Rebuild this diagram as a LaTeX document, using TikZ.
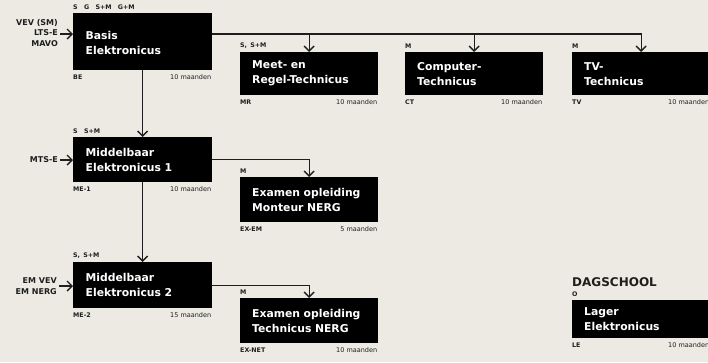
\documentclass[tikz,border=0pt]{standalone}
\usepackage{fontspec}
\setmainfont{DejaVu Sans}
\usetikzlibrary{arrows.meta}
\definecolor{paper}{HTML}{ECEAE2}
\definecolor{ink}{HTML}{1E1E1E}
\tikzset{
  course/.style={fill=black, draw=none, anchor=north west, inner xsep=12pt, inner ysep=0pt,
    text=white, font=\bfseries\fontsize{10.8}{15}\selectfont,
    align=left, text width=114pt},
  tag/.style={font=\bfseries\fontsize{6.3}{7}\selectfont, text=ink, inner sep=0pt},
  dur/.style={font=\fontsize{6.5}{7}\selectfont, text=ink, inner sep=0pt},
  entry/.style={font=\bfseries\fontsize{8}{10.5}\selectfont, text=ink, inner sep=0pt, align=right, anchor=east},
  link/.style={draw=ink, line width=1.4pt, -{Straight Barb[length=5pt,width=10pt,line width=1.4pt]}},
}
\begin{document}
\begin{tikzpicture}[x=1pt,y=-1pt]
  \fill[paper] (0,0) rectangle (708,362);
  \useasboundingbox (0,0) rectangle (708,362);

  % course blocks
  \node[course, minimum width=139pt, minimum height=57pt, text depth=12pt] (be) at (73,13) {Basis\\Elektronicus};
  \node[course, minimum width=138pt, minimum height=43pt] (mr)   at (240,52) {Meet- en\\Regel-Technicus};
  \node[course, minimum width=138pt, minimum height=43pt] (ct)   at (405,52) {Computer-\\Technicus};
  \node[course, minimum width=138pt, minimum height=43pt] (tv)   at (572,52) {TV-\\Technicus};
  \node[course, minimum width=139pt, minimum height=45pt] (me1)  at (73,137) {Middelbaar\\Elektronicus 1};
  \node[course, minimum width=138pt, minimum height=45pt] (exem) at (240,177) {Examen opleiding\\Monteur NERG};
  \node[course, minimum width=139pt, minimum height=46pt] (me2)  at (73,262) {Middelbaar\\Elektronicus 2};
  \node[course, minimum width=138pt, minimum height=45pt] (exnt) at (240,298) {Examen opleiding\\Technicus NERG};
  \node[course, minimum width=138pt, minimum height=38pt] (le)   at (572,300) {Lager\\Elektronicus};

  % target groups above each block
  \node[tag, anchor=south west] (be-t)   at ([yshift=3pt]be.north west)   {S\quad G\quad S+M\quad G+M};
  \node[tag, anchor=south west] (mr-t)   at ([yshift=3pt]mr.north west)   {S,\enspace S+M};
  \node[tag, anchor=south west] (ct-t)   at ([yshift=3pt]ct.north west)   {M};
  \node[tag, anchor=south west] (tv-t)   at ([yshift=3pt]tv.north west)   {M};
  \node[tag, anchor=south west] (me1-t)  at ([yshift=3pt]me1.north west)  {S\quad S+M};
  \node[tag, anchor=south west] (exem-t) at ([yshift=3pt]exem.north west) {M};
  \node[tag, anchor=south west] (me2-t)  at ([yshift=3pt]me2.north west)  {S,\enspace S+M};
  \node[tag, anchor=south west] (exnt-t) at ([yshift=3pt]exnt.north west) {M};
  \node[tag, anchor=south west] (le-t)   at ([yshift=3pt]le.north west)   {O};
  \node[font=\bfseries\fontsize{12}{14}\selectfont, text=ink, inner sep=0pt, anchor=south west] (dag)
       at ([yshift=5pt]le-t.north west) {DAGSCHOOL};

  % codes and durations below each block
  \foreach \b/\code/\dur in {be/BE/10 maanden, mr/MR/10 maanden, ct/CT/10 maanden,
      tv/TV/10 maanden, me1/ME-1/10 maanden, exem/EX-EM/5 maanden,
      me2/ME-2/15 maanden, exnt/EX-NET/10 maanden, le/LE/10 maanden}{
    \node[tag, anchor=north west] (\b-c) at ([yshift=-4pt]\b.south west) {\code};
    \node[dur, anchor=north east] (\b-d) at ([yshift=-4pt, xshift=-1pt]\b.south east) {\dur};
  }

  % entry requirements
  \node[entry] (in-be)  at (58,33)  {VEV (SM)\\LTS-E\\MAVO};
  \node[entry] (in-me1) at (58,160) {MTS-E};
  \node[entry] (in-me2) at (57,286) {EM VEV\\EM NERG};
  \coordinate (bus) at (0,34);
  \draw[link] ([xshift=2pt]in-be.east |- bus) -- (be.west |- bus);
  \draw[link] ([xshift=2pt]in-me1.east) -- (me1.west |- in-me1.east);
  \draw[link] ([xshift=2pt]in-me2.east) -- (me2.west |- in-me2.east);

  % routes between blocks
  \draw[link] (be.east |- bus) -| (tv.north);
  \draw[link] (mr.north |- bus) -- (mr.north);
  \draw[link] (ct.north |- bus) -- (ct.north);
  \draw[link] (be.south) -- (me1.north);
  \draw[link] (me1.south) -- (me2.north);
  \draw[link] (me1.east) -| (exem.north);
  \draw[link] (me2.east) -| (exnt.north);
\end{tikzpicture}
\end{document}
